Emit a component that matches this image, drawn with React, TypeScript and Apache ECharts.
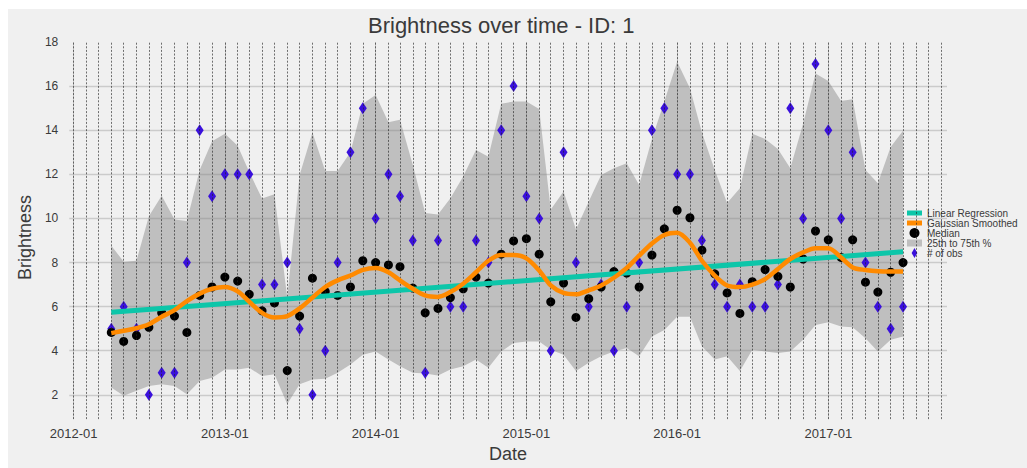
import React, { useEffect, useRef } from "react";
import * as echarts from "echarts";

// ---- data ----
const months = [
  "2012-04","2012-05","2012-06","2012-07","2012-08","2012-09","2012-10","2012-11","2012-12",
  "2013-01","2013-02","2013-03","2013-04","2013-05","2013-06","2013-07","2013-08","2013-09","2013-10","2013-11","2013-12",
  "2014-01","2014-02","2014-03","2014-04","2014-05","2014-06","2014-07","2014-08","2014-09","2014-10","2014-11","2014-12",
  "2015-01","2015-02","2015-03","2015-04","2015-05","2015-06","2015-07","2015-08","2015-09","2015-10","2015-11","2015-12",
  "2016-01","2016-02","2016-03","2016-04","2016-05","2016-06","2016-07","2016-08","2016-09","2016-10","2016-11","2016-12",
  "2017-01","2017-02","2017-03","2017-04","2017-05","2017-06","2017-07",
];

const median = [
  4.83, 4.42, 4.69, 5.06, 5.72, 5.57, 4.83, 6.51, 6.89,
  7.34, 7.16, 6.56, 5.81, 6.17, 3.1, 5.57, 7.29, 6.69, 6.51, 6.89, 8.08,
  8.0, 7.89, 7.81, 6.84, 5.72, 5.92, 6.41, 6.81, 7.34, 7.07, 8.38, 8.98,
  9.08, 8.38, 6.22, 7.07, 5.51, 6.36, 6.89, 7.59, 7.52, 6.89, 8.34, 9.53,
  10.37, 10.03, 8.56, 7.49, 6.62, 5.69, 7.13, 7.68, 7.37, 6.89, 8.16, 9.43,
  9.03, 8.23, 9.03, 7.11, 6.66, 7.56, 8.0,
];

const obs = [
  5, 6, 5, 2, 3, 3, 8, 14, 11,
  12, 12, 12, 7, 7, 8, 5, 2, 4, 8, 13, 15,
  10, 12, 11, 9, 3, 9, 6, 6, 9, 8, 14, 16,
  11, 10, 4, 13, 8, 6, 7, 4, 6, 8, 14, 15,
  12, 12, 9, 7, 6, 7, 6, 6, 7, 15, 10, 17,
  14, 10, 13, 8, 6, 5, 6,
];

const q25 = [
  2.33, 1.96, 2.18, 2.4, 2.48, 2.4, 2.03, 2.63, 2.78,
  3.15, 3.15, 3.23, 2.85, 2.93, 1.58, 2.48, 2.7, 2.73, 3.0, 3.38, 3.82,
  3.97, 3.6, 3.3, 3.0, 2.97, 2.88, 3.15, 3.3, 3.6, 3.23, 3.97, 4.35,
  4.42, 4.42, 4.05, 3.82, 3.08, 3.45, 3.75, 3.97, 4.12, 3.75, 4.65, 4.94,
  5.54, 5.54, 4.2, 3.6, 3.75, 3.08, 4.05, 3.97, 3.9, 3.97, 4.5, 5.17,
  5.29, 5.1, 5.06, 4.57, 3.97, 4.5, 4.65,
];

const q75 = [
  8.76, 8.04, 8.08, 10.1, 11.03, 9.95, 9.88, 12.2, 13.5,
  13.84, 13.3, 12.1, 10.9, 11.1, 6.4, 11.97, 13.9, 12.15, 12.15, 13.0, 15.2,
  15.6, 14.36, 14.48, 12.42, 10.25, 10.18, 10.92, 11.9, 13.1, 12.8, 15.2, 15.3,
  15.3, 14.96, 10.4, 11.22, 9.5, 10.77, 11.97, 12.27, 12.5, 11.52, 13.6, 15.3,
  17.1, 15.9, 13.9, 12.2, 10.7, 11.37, 13.84, 13.6, 13.15, 12.27, 14.29, 16.57,
  16.23, 15.33, 15.4, 12.2, 11.6, 13.24, 13.98,
];

const smoothed = [
  4.8, 4.91, 5.02, 5.2, 5.54, 5.84, 6.25, 6.59, 6.81,
  6.89, 6.69, 6.22, 5.72, 5.51, 5.57, 5.92, 6.41, 6.89, 7.19, 7.41, 7.67,
  7.75, 7.56, 7.19, 6.81, 6.51, 6.44, 6.66, 7.04, 7.56, 8.08, 8.34, 8.34,
  8.19, 7.64, 6.96, 6.62, 6.56, 6.74, 6.96, 7.31, 7.75, 8.31, 8.86, 9.25,
  9.35, 8.9, 8.08, 7.41, 6.96, 6.89, 7.0, 7.25, 7.71, 8.16, 8.46, 8.65,
  8.65, 8.23, 7.78, 7.66, 7.6, 7.59, 7.59,
];

// linear regression: values at the first and last month
const regressionMonths = ["2012-04", "2017-07"];
const regressionValues = [5.74, 8.49];

const xTickLabels = ["2012-01", "2013-01", "2014-01", "2015-01", "2016-01", "2017-01"];
const yTickLabels = [2, 4, 6, 8, 10, 12, 14, 16, 18];
const yGridValues = [2, 4, 6, 8, 10, 12, 14, 16];
const guideStart = "2012-01";
const guideEnd = "2017-10";

// ---- helpers ----
const DAY = 86400000;
function toTs(m: string): number {
  const [y, mo] = m.split("-").map(Number);
  return Date.UTC(y, mo - 1, 1);
}
function monthRange(a: string, b: string): number[] {
  const out: number[] = [];
  let [y, m] = a.split("-").map(Number);
  const [yb, mb] = b.split("-").map(Number);
  while (y < yb || (y === yb && m <= mb)) {
    out.push(Date.UTC(y, m - 1, 1));
    m++;
    if (m > 12) { m = 1; y++; }
  }
  return out;
}

const FONT = "'Liberation Sans', Arial, Helvetica, sans-serif";
const TEXT = "#3a3a3a";
const BAND = "rgba(128,128,128,0.44)";

export default function App() {
  const ref = useRef<HTMLDivElement>(null);

  useEffect(() => {
    if (!ref.current) return;
    const chart = echarts.init(ref.current, null, { renderer: "svg" });
    const xs = months.map(toTs);
    const guides = monthRange(guideStart, guideEnd);
    const xMin = toTs(guideStart) - 10.8 * DAY;
    const xMax = toTs(guideEnd) + 14.4 * DAY;
    const yearTs = xTickLabels.map(toTs);

    const option: any = {
      animation: false,
      backgroundColor: "#f0f0f0",
      textStyle: { fontFamily: FONT },
      title: {
        text: "Brightness over time - ID: 1",
        left: 360,
        top: 5,
        padding: 0,
        textStyle: { fontFamily: FONT, fontSize: 22, fontWeight: "normal", color: TEXT },
      },
      legend: {
        orient: "vertical",
        left: 899,
        top: 199,
        padding: 0,
        itemGap: 0,
        itemWidth: 15,
        itemHeight: 10,
        textStyle: { fontFamily: FONT, fontSize: 10, lineHeight: 10, color: TEXT },
        data: [
          { name: "Linear Regression", icon: "path://M0,0H15V5H0Z" },
          { name: "Gaussian Smoothed", icon: "path://M0,0H15V5H0Z" },
          { name: "Median", icon: "circle" },
          { name: "25th to 75th %", icon: "path://M0,0H15V7H0Z" },
          { name: "# of obs", icon: "path://M4,0L8,7L4,14L0,7Z" },
        ],
      },
      grid: { left: 55, right: 80, top: 33, bottom: 44 },
      xAxis: {
        type: "value",
        min: xMin,
        max: xMax,
        name: "Date",
        nameLocation: "middle",
        nameGap: 22,
        nameTextStyle: { fontFamily: FONT, fontSize: 18, color: TEXT },
        axisLine: { show: false },
        axisTick: { show: false, customValues: yearTs },
        axisLabel: {
          customValues: yearTs,
          margin: 8,
          fontFamily: FONT,
          fontSize: 13,
          color: TEXT,
          formatter: (v: number) => {
            const i = yearTs.indexOf(v);
            return i >= 0 ? xTickLabels[i] : "";
          },
        },
        splitLine: { show: true, lineStyle: { color: "#cbcbcb", width: 1 } },
      },
      yAxis: {
        type: "value",
        min: 0.9,
        max: 18,
        name: "Brightness",
        nameLocation: "middle",
        nameGap: 32,
        nameTextStyle: { fontFamily: FONT, fontSize: 18, color: TEXT, padding: [0, 14, 0, 0] },
        axisLine: { show: false },
        axisTick: { show: false, customValues: yGridValues },
        axisLabel: {
          customValues: yTickLabels,
          margin: 11,
          fontFamily: FONT,
          fontSize: 12,
          color: TEXT,
        },
        splitLine: { show: true, lineStyle: { color: "#cbcbcb", width: 1.3 } },
      },
      series: [
        {
          name: "guides",
          type: "line",
          data: [],
          z: 1,
          silent: true,
          markLine: {
            silent: true,
            symbol: ["none", "none"],
            label: { show: false },
            lineStyle: { color: "#222", width: 0.8, type: [2, 1.6], opacity: 0.8 },
            data: guides.map((t) => ({ xAxis: t })),
          },
        },
        {
          name: "25th to 75th %",
          type: "custom",
          z: 2,
          itemStyle: { color: BAND },
          encode: { x: 0, y: [1, 2] },
          data: xs.map((x, i) => [x, q25[i], q75[i]]),
          renderItem: (params: any, api: any) => {
            if (params.dataIndex !== 0) return null;
            const top = xs.map((x, i) => api.coord([x, q75[i]]));
            const bot = xs.map((x, i) => api.coord([x, q25[i]])).reverse();
            return {
              type: "polygon",
              shape: { points: top.concat(bot) },
              style: { fill: BAND },
            };
          },
        },
        {
          name: "# of obs",
          type: "scatter",
          z: 3,
          symbol: "diamond",
          symbolSize: [8, 12],
          itemStyle: { color: "#3a10dc", opacity: 1 },
          data: xs.map((x, i) => [x, obs[i]]),
        },
        {
          name: "Median",
          type: "scatter",
          z: 4,
          symbol: "circle",
          symbolSize: 9,
          itemStyle: { color: "#000000", opacity: 1 },
          data: xs.map((x, i) => [x, median[i]]),
        },
        {
          name: "Linear Regression",
          type: "line",
          z: 5,
          symbol: "none",
          itemStyle: { color: "#0cc6a9" },
          lineStyle: { color: "#0cc6a9", width: 5 },
          data: regressionMonths.map((m, i) => [toTs(m), regressionValues[i]]),
        },
        {
          name: "Gaussian Smoothed",
          type: "line",
          z: 6,
          symbol: "none",
          smooth: 0.3,
          itemStyle: { color: "#ff8a00" },
          lineStyle: { color: "#ff8a00", width: 4.5 },
          data: xs.map((x, i) => [x, smoothed[i]]),
        },
      ],
    };

    chart.setOption(option);
    return () => chart.dispose();
  }, []);

  return (
    <div
      ref={ref}
      style={{ position: "absolute", left: 8, top: 9, width: 1019, height: 459 }}
    />
  );
}
